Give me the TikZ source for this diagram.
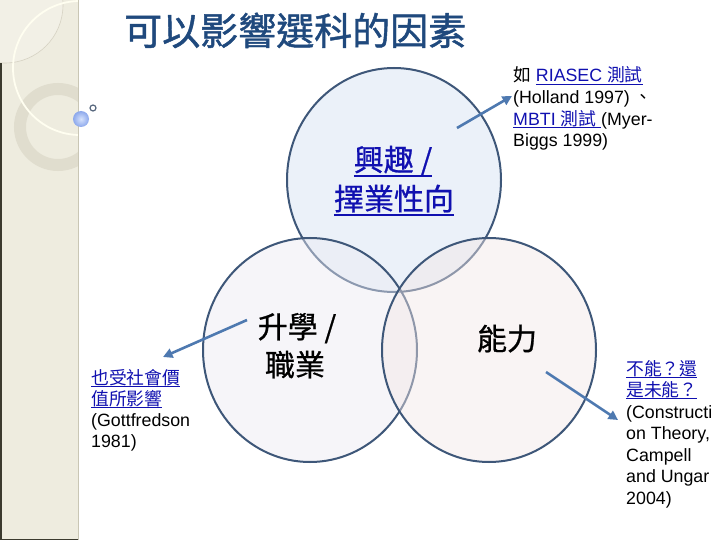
\documentclass[tikz,border=0pt]{standalone}
\usepackage{fontspec}
\setmainfont{Liberation Sans}
\newfontfamily\cjk{Noto Sans CJK TC}
\newfontfamily\cjkb{Noto Sans CJK TC}[FakeBold=1.2]
\newfontfamily\cjkl{Noto Sans CJK TC}[FakeBold=0.8]
\usetikzlibrary{arrows.meta,shapes.geometric}
\definecolor{panel}{RGB}{238,236,223}
\definecolor{panellight}{RGB}{242,240,230}
\definecolor{ringc}{RGB}{224,221,206}
\definecolor{whitearc}{RGB}{255,254,240}
\definecolor{faintarc}{RGB}{214,210,195}
\definecolor{panelborder}{RGB}{201,198,180}
\definecolor{darkedge}{RGB}{59,58,46}
\definecolor{circline}{RGB}{62,87,121}
\definecolor{arrowblue}{RGB}{78,121,176}
\definecolor{linkblue}{RGB}{16,16,176}
\definecolor{titleblue}{RGB}{31,73,125}
\definecolor{topfill}{RGB}{212,225,243}
\definecolor{blfill}{RGB}{237,235,243}
\definecolor{brfill}{RGB}{243,231,231}
\definecolor{sphereout}{RGB}{140,168,236}
\definecolor{spherein}{RGB}{214,226,252}
\definecolor{smallring}{RGB}{90,106,128}
\newsavebox\ulbox
\newcommand\ulin[3]{\sbox\ulbox{#3}\rlap{\rule[#1]{\wd\ulbox}{#2}}\usebox\ulbox}
\newcommand\lnk[1]{\textcolor{linkblue}{\ulin{-2.6pt}{0.9pt}{#1}}}
\begin{document}
\begin{tikzpicture}[x=1pt,y=-1pt,
  circ/.style={ellipse, draw=circline, line width=2pt, fill opacity=0.45,
    minimum width=214pt, minimum height=224pt, inner sep=0},
  conn/.style={draw=arrowblue, line width=2.6pt, -{Triangle[length=9.5pt,width=9.5pt]}},
  lbl/.style={inner sep=0, anchor=base, font=\cjkl\fontsize{30}{36}\selectfont},
  sm/.style={inner sep=0, anchor=base west, font=\fontsize{17.8}{21}\selectfont}]
\useasboundingbox (0,0) rectangle (720,540);
\fill[white] (0,0) rectangle (720,540);
% left decorative panel
\begin{scope}
  \clip (0,0) rectangle (78,540);
  \fill[panel] (0,0) rectangle (78,540);
  \fill[panellight] (5,5) circle[radius=58];
  \draw[faintarc, line width=0.6pt] (5,5) circle[radius=58];
  \draw[ringc, line width=12pt] (58,127) circle[radius=38];
  \draw[whitearc, line width=1.8pt] (80,68) circle[radius=67];
\end{scope}
\draw[panelborder, line width=1pt] (78.5,0) -- (78.5,540);
\draw[darkedge, line width=1.5pt] (0.75,63) -- (0.75,540);
\draw[darkedge, line width=1.5pt] (0,539.25) -- (78,539.25);
\shade[inner color=spherein, outer color=sphereout] (81,119) circle[radius=8];
\draw[smallring, line width=1.2pt] (93,108) circle[radius=3];
% title
\node[anchor=base west, inner sep=0, text=titleblue, font=\cjkb\fontsize{38}{40}\selectfont] (title) at (124,45) {可以影響選科的因素};
% circles
\node[circ, fill=topfill] (ctop) at (394,180) {};
\node[circ, fill=blfill] (cleft) at (310,350) {};
\node[circ, fill=brfill] (cright) at (489,350) {};
% circle labels
\node[lbl, text=linkblue] (t1) at (393,171) {\ulin{-6pt}{1.8pt}{興趣 /}};
\node[lbl, text=linkblue] (t2) at (394,210) {\ulin{-6pt}{1.8pt}{擇業性向}};
\node[lbl] (b1) at (297,338) {升學 /};
\node[lbl] (b2) at (295,376) {職業};
\node[lbl] (b3) at (507,350) {能力};
% top-right notes
\node[sm] (r1) at (513,82) {{\cjk 如} \lnk{RIASEC {\cjk 測試}}};
\node[sm] (r2) at (513,103.7) {(Holland 1997) {\cjk 、}};
\node[sm] (r3) at (513,125.3) {\lnk{MBTI {\cjk 測試}\ }(Myer-};
\node[sm] (r4) at (513,147) {Biggs 1999)};
% left notes
\node[sm] (l1) at (91,384) {\lnk{\cjk 也受社會價}};
\node[sm] (l2) at (91,405) {\lnk{\cjk 值所影響}};
\node[sm] (l3) at (91,426) {(Gottfredson};
\node[sm] (l4) at (91,447) {1981)};
% bottom-right notes
\node[sm] (s1) at (626,375) {\lnk{\cjk 不能？還}};
\node[sm] (s2) at (626,396.5) {\lnk{\cjk 是未能？}};
\node[sm] (s3) at (626,418) {(Constructi};
\node[sm] (s4) at (626,439.5) {on Theory,};
\node[sm] (s5) at (626,461) {Campell};
\node[sm] (s6) at (626,482.5) {and Ungar};
\node[sm] (s7) at (626,504) {2004)};
% arrows
\coordinate (a1s) at (457,128);
\coordinate (a1e) at (512,96);
\coordinate (a2s) at (247,320);
\coordinate (a2e) at (163,357);
\coordinate (a3s) at (546,372);
\coordinate (a3e) at (618,420);
\draw[conn] (a1s) -- (a1e);
\draw[conn] (a2s) -- (a2e);
\draw[conn] (a3s) -- (a3e);
\end{tikzpicture}
\end{document}
